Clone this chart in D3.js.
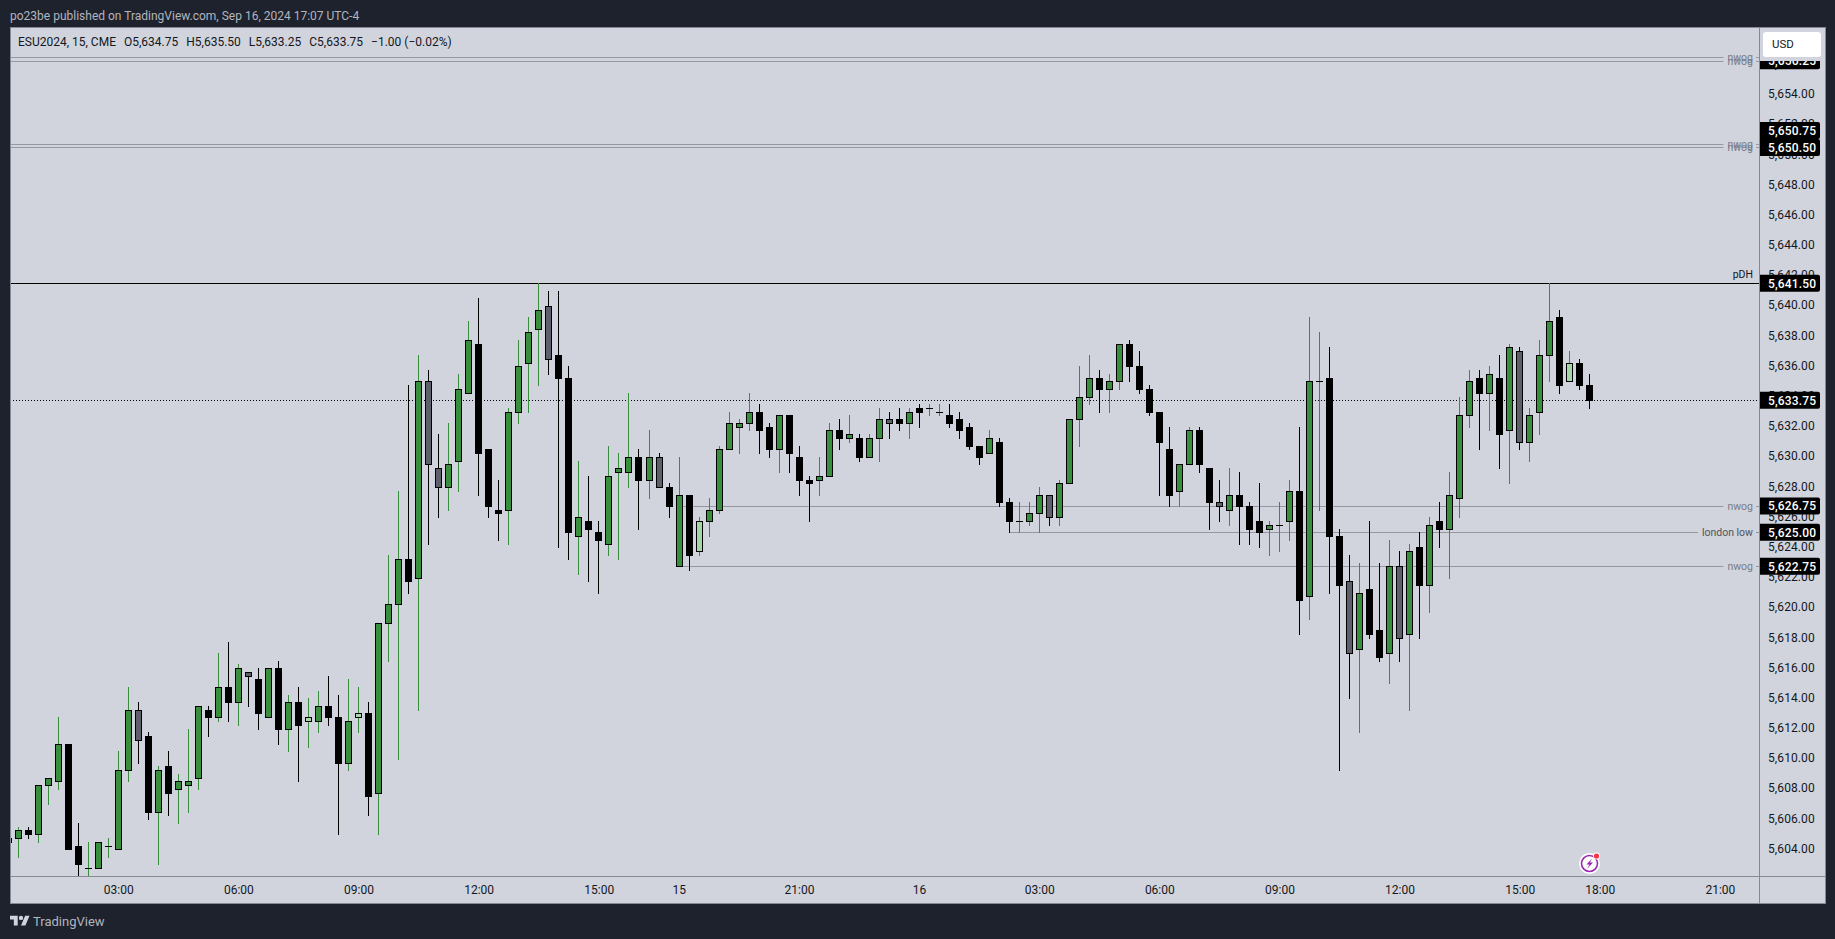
<!DOCTYPE html>
<html>
<head>
<meta charset="utf-8">
<script src="https://cdnjs.cloudflare.com/ajax/libs/d3/7.8.5/d3.min.js"></script>
<style>
html,body{margin:0;padding:0;background:#1e222d;overflow:hidden}
svg{display:block}
text{font-family:Roboto,"Noto Sans",sans-serif}
</style>
</head>
<body>
<svg id="c" width="1835" height="939"></svg>
<script>
const opens=[5604.75,5604.75,5605.25,5605,5608.25,5608.5,5611,5604.25,5602.75,5602.75,5604.25,5604,5609.25,5613.25,5611.5,5606.5,5609.5,5608,5608.25,5608.75,5613.25,5612.75,5614.75,5613.75,5615.75,5615.25,5612.75,5616,5612,5613.75,5612.5,5612.5,5613.5,5612.75,5609.75,5612.75,5613,5607.75,5619,5620.25,5623.25,5622,5635,5629.25,5628,5629.75,5634.25,5637.5,5630.5,5626.5,5626.5,5633,5636.25,5638.5,5640,5636.75,5635.25,5624.75,5625.75,5625,5624.25,5629,5629,5630,5628.5,5630,5628,5622.75,5627.5,5623.75,5625.75,5626.5,5630.5,5632,5632.25,5633,5632,5630.5,5632.75,5630,5628.5,5628.5,5628.75,5631.75,5631.25,5631.25,5630,5631.25,5632.5,5632.5,5632.25,5633.25,5633.25,5633,5632.75,5632.5,5632,5630.75,5630.25,5631,5627,5625.75,5625.75,5626.25,5627.5,5626,5628.25,5632.5,5634,5635.25,5634.5,5635,5637.5,5636,5634.5,5633,5630.5,5627.75,5629.5,5631.75,5629.25,5627,5626.5,5627.5,5626.75,5625.75,5625.25,5625.5,5625.75,5627.75,5620.75,5635,5635.25,5624.75,5621.75,5617.25,5621.25,5618.5,5617,5622.75,5618.25,5624,5621.5,5625.75,5625.25,5627.25,5632.75,5635.25,5634.25,5635.25,5631.75,5637,5631,5633,5636.75,5639.25,5635,5636.25,5634.75];
const highs=[5604.75,5605.5,5605.5,5608.25,5608.75,5612.75,5611,5605.75,5604.5,5604.5,5604.75,5610.5,5614.75,5613.75,5611.75,5609.5,5610.5,5609,5612,5613.5,5613.5,5617,5617.75,5616.25,5615.75,5616,5616,5616.5,5614.25,5614.75,5614,5614.5,5615.5,5614.25,5615.25,5614.75,5613.75,5619,5623.5,5627.75,5634.75,5636.75,5635.75,5631.5,5632.25,5635.5,5639,5640.5,5630.5,5628.5,5633.25,5637.75,5639.25,5641.5,5641,5641,5636,5629.75,5628.75,5625.75,5630.75,5630.25,5634.25,5630.5,5631.75,5630.25,5628.25,5630,5627.5,5626,5627.25,5630.75,5633,5632.5,5634.25,5633.5,5632.25,5632.75,5632.75,5630.75,5628.75,5630,5632.25,5632.5,5632.75,5631.5,5631.5,5633.25,5633,5633.25,5633.25,5633.5,5633.5,5633.5,5633.5,5633,5632.25,5630.75,5631.75,5631.25,5627.25,5627,5627,5628,5627.5,5628.5,5632.5,5636,5636.75,5635.75,5635.5,5637.5,5637.75,5637,5634.75,5633,5632,5629.5,5632,5632,5629.25,5628.5,5629.25,5629,5627,5628.25,5625.75,5627,5628.5,5632,5639.25,5638.25,5637.25,5625.25,5623.5,5623,5625.75,5623,5624.5,5623.75,5624.25,5625,5626,5627,5629,5634,5635.75,5635.75,5636,5636.75,5637.5,5637.25,5633.25,5637.75,5641.5,5639.75,5637,5636.5,5635.5];
const lows=[5604.5,5603.5,5604.75,5604.5,5607,5608,5604,5602,5602,5602.75,5603.5,5604,5608.5,5609.75,5606,5603,5606.25,5605.75,5606.5,5608,5611.5,5612.5,5612.5,5612.25,5613.5,5612,5612.75,5611,5610.5,5608.5,5610.75,5611.75,5612.25,5605,5609.25,5611.75,5606.25,5605,5616.5,5610,5621,5613.25,5624.25,5626,5626.5,5627.75,5634.25,5627.5,5626,5624.5,5624.25,5632.25,5633,5634.75,5635.5,5624,5623.25,5622.25,5621.75,5621,5623.5,5623.25,5628,5625.25,5627.25,5628,5626,5622.75,5622.5,5623.5,5624.75,5626.25,5630.5,5630.25,5631.75,5630.25,5630,5629,5629,5627.5,5625.75,5627.5,5628.75,5630.5,5631,5629.75,5630,5629.75,5631.25,5631.75,5631.25,5632,5632.75,5632.75,5632,5631.25,5630.5,5629.5,5630.25,5626.75,5625,5625,5625.5,5625,5625.5,5625.5,5628.25,5630.75,5633.5,5633,5633,5634.5,5635,5634.25,5632.75,5627.5,5626.75,5626.75,5629.5,5629,5625.25,5625.75,5625.5,5624.25,5624.25,5624,5623.5,5623.75,5624.5,5618.25,5619.25,5626.5,5621,5609.25,5614,5611.75,5618,5616.5,5615,5616.5,5613.25,5618,5619.75,5624,5622,5626,5632,5630.5,5631.75,5629.25,5628.25,5630.5,5629.75,5631.5,5635,5634.25,5635,5634.5,5633.25];
const closes=[5604.5,5605.25,5605,5608.25,5608.75,5611,5604,5603,5602.75,5604.5,5604.25,5609.25,5613.25,5611.25,5606.5,5609.25,5607.75,5608.5,5608.5,5613.5,5612.75,5614.75,5613.75,5616,5615.5,5613,5616,5612,5613.75,5612.25,5612.75,5613.5,5612.75,5609.75,5612.5,5613,5607.5,5619,5620.25,5623.25,5621.75,5635,5629.5,5628,5629.5,5634.5,5637.75,5630.25,5626.75,5626.25,5633,5636,5638.25,5639.75,5636.5,5635.25,5625,5626,5625.25,5624.5,5628.75,5629.25,5630,5628.5,5630,5628,5626.75,5627.5,5623.5,5625.75,5626.5,5630.5,5632.25,5632.25,5633,5631.75,5630.5,5632.75,5630.25,5628.5,5628.25,5628.75,5631.75,5631.25,5631.5,5630,5631.25,5632.5,5632.25,5632.25,5633,5633,5633.25,5633,5632.25,5631.75,5630.75,5630,5631.25,5627,5625.75,5625.75,5626.25,5627.5,5626,5628.25,5632.5,5634,5635.25,5634.5,5635,5637.5,5636,5634.5,5633,5631,5627.5,5629.5,5631.75,5629.5,5627,5626.75,5627.5,5626.75,5625.25,5625,5625.5,5625.5,5627.75,5620.5,5635,5635,5624.75,5621.5,5617,5621,5618.25,5616.75,5622.75,5618,5623.75,5621.5,5625.5,5625.25,5627.5,5632.75,5635,5634.25,5635.5,5631.5,5637.25,5631,5632.75,5636.75,5639,5634.75,5636.25,5634.75,5633.75];
const greyBars=[13,24,42,43,54,65,88,104,121,134,139,151];
const lightBars=[30,35,69,156];
const priceTicks=[5604,5606,5608,5610,5612,5614,5616,5618,5620,5622,5624,5626,5628,5630,5632,5634,5636,5638,5640,5642,5644,5646,5648,5650,5652,5654,5656];
const timeTickBars=[11,23,35,47,59,67,79,91,103,115,127,139,151,159,171];
const timeTickLabels=["03:00","06:00","09:00","12:00","15:00","15","21:00","16","03:00","06:00","09:00","12:00","15:00","18:00","21:00"];
const rayPrices=[5656.5,5656.25,5650.75,5650.5,5626.75,5625,5622.75];
const rayStartBars=[0,0,0,0,67,100,67];
const rayLabels=["nwog","nwog","nwog","nwog","nwog","london low","nwog"];
const pdhPrice=5641.5, lastPrice=5633.75;
const scaleLabels=[5656.25,5650.75,5650.5,5641.5,5633.75,5626.75,5625,5622.75];
const headerText="po23be published on TradingView.com, Sep 16, 2024 17:07 UTC-4";
const legendParts=["ESU2024, 15, CME","O5,634.75","H5,635.50","L5,633.25","C5,633.75","−1.00 (−0.02%)"];

const W=1835,H=939;
const plot={l:10,r:1759,t:27,b:876,outerR:1825,outerB:903};
const GREEN="#388e3c",GREY="#5d606b",LIGHT="#a5d6a7",BG="#d1d4dc",LINE="#9598a1",DARK="#1e222d",INK="#131722";
const svg=d3.select("#c");
const x=d3.scaleLinear().domain([0,158]).range([8.365,1589.945]);
const px=i=>Math.floor(x(i));
const y=d3.scaleLinear().domain([5622.75,5641.5]).range([566.3,283.3]);
const py=p=>Math.round(y(p));

svg.append("rect").attr("width",W).attr("height",H).attr("fill",DARK);
svg.append("rect").attr("x",plot.l+.5).attr("y",plot.t+.5).attr("width",plot.outerR-plot.l).attr("height",plot.outerB-plot.t)
  .attr("fill",BG).attr("stroke","#868993");
svg.append("defs").append("clipPath").attr("id","pc").append("rect")
  .attr("x",plot.l+1).attr("y",plot.t+1).attr("width",plot.r-plot.l-1).attr("height",plot.b-plot.t-1);

// separators
svg.append("line").attr("x1",plot.r+.5).attr("x2",plot.r+.5).attr("y1",plot.t).attr("y2",plot.outerB).attr("stroke","#868993");
svg.append("line").attr("x1",plot.l).attr("x2",plot.outerR).attr("y1",plot.b+.5).attr("y2",plot.b+.5).attr("stroke","#868993");

// price axis
const axR=svg.append("g").attr("transform",`translate(${plot.r+9},-1.3)`)
  .call(d3.axisRight(y).tickValues(priceTicks).tickFormat(d3.format(",.2f")).tickSize(0).tickPadding(0));
axR.select(".domain").remove();
axR.selectAll("text").attr("font-size",12).attr("fill",INK).attr("dy","0.36em").attr("letter-spacing","0.1px");

// time axis
const axB=svg.append("g").attr("transform",`translate(-0.2,${plot.b})`)
  .call(d3.axisBottom(x).tickValues(timeTickBars).tickFormat(d=>timeTickLabels[timeTickBars.indexOf(d)]).tickSize(0).tickPadding(0));
axB.select(".domain").remove();
axB.selectAll("text").attr("font-size",12).attr("fill",INK).attr("dy","17.5px").attr("y",0);

const g=svg.append("g").attr("clip-path","url(#pc)");

// rays
const rays=rayPrices.map((p,i)=>({p,start:rayStartBars[i],label:rayLabels[i]}));
g.selectAll(".ray").data(rays).join("line").attr("class","ray")
  .attr("x1",d=>d.start===0?plot.l:px(d.start)).attr("x2",plot.r)
  .attr("y1",d=>py(d.p)+.5).attr("y2",d=>py(d.p)+.5).attr("stroke",LINE).attr("stroke-width",1);
// horizontal reference lines
g.append("line").attr("x1",plot.l).attr("x2",plot.r).attr("y1",py(lastPrice)+.5).attr("y2",py(lastPrice)+.5)
  .attr("stroke","#000").attr("stroke-dasharray","1 2");
g.append("line").attr("x1",plot.l).attr("x2",plot.r).attr("y1",py(pdhPrice)+.5).attr("y2",py(pdhPrice)+.5)
  .attr("stroke","#000");

// candles
const bars=opens.map((o,i)=>({i,o,h:highs[i],l:lows[i],c:closes[i],
  kind:greyBars.includes(i)?"grey":lightBars.includes(i)?"light":closes[i]>=o?"up":"down"}));
const fillOf={up:GREEN,down:"#000",grey:GREY,light:LIGHT};
const wickOf={up:GREEN,down:"#000",grey:"#000",light:GREEN};
g.selectAll(".wick").data(bars).join("rect").attr("class","wick")
  .attr("x",d=>px(d.i)).attr("width",1)
  .attr("y",d=>py(d.h)).attr("height",d=>py(d.l)-py(d.h)+1).attr("fill",d=>wickOf[d.kind]);
g.selectAll(".body").data(bars).join("rect").attr("class","body")
  .attr("x",d=>px(d.i)-3).attr("width",7)
  .attr("y",d=>py(Math.max(d.o,d.c)))
  .attr("height",d=>py(Math.min(d.o,d.c))-py(Math.max(d.o,d.c))+1).attr("fill","#000");
g.selectAll(".fill").data(bars.filter(d=>d.o!==d.c&&d.kind!=="down")).join("rect").attr("class","fill")
  .attr("x",d=>px(d.i)-2).attr("width",5)
  .attr("y",d=>py(Math.max(d.o,d.c))+1)
  .attr("height",d=>Math.max(0,py(Math.min(d.o,d.c))-py(Math.max(d.o,d.c))-1)).attr("fill",d=>fillOf[d.kind]);

// ray labels with background knock-out
const rl=svg.append("g");
rays.forEach(d=>{
  const t=rl.append("text").attr("x",1753).attr("y",py(d.p)+.5).attr("dy","0.32em").attr("text-anchor","end")
    .attr("font-size",10.5).attr("fill",d.label==="london low"?"#50535e":"#787b86").text(d.label);
  const w=t.node().getComputedTextLength();
  rl.insert("rect","text").attr("x",1753-w-4).attr("y",py(d.p)).attr("width",w+7).attr("height",1).attr("fill",BG);
});
svg.append("text").attr("x",1753).attr("y",py(pdhPrice)-5).attr("text-anchor","end").attr("font-size",10.5).attr("fill",INK).text("pDH");

// scale labels, pushed apart when they would overlap
const boxH=17;
const slab=scaleLabels.slice().sort((a,b)=>a-b).map(p=>({p,cy:y(p)}));
for(let i=1;i<slab.length;i++){ if(slab[i-1].cy-slab[i].cy<boxH) slab[i].cy=slab[i-1].cy-boxH; }
const sg=svg.append("g").selectAll("g").data(slab).join("g").attr("transform",d=>`translate(${plot.r+1},${d.cy})`);
sg.append("path").attr("d",`M0,${-boxH/2}H58a2,2 0 0 1 2,2V${boxH/2-2}a2,2 0 0 1 -2,2H0Z`).attr("fill","#000");
sg.append("text").attr("x",8).attr("dy","0.36em").attr("font-size",12).attr("font-weight",500).attr("letter-spacing","0.15px").attr("fill","#fff")
  .text(d=>d3.format(",.2f")(d.p));

// currency box with its clear margin
svg.append("rect").attr("x",plot.r+1).attr("y",plot.t+1).attr("width",plot.outerR-plot.r-1).attr("height",33).attr("fill",BG);
svg.append("rect").attr("x",1763).attr("y",32).attr("width",58).attr("height",25).attr("rx",3).attr("fill","#fff");
svg.append("text").attr("x",1772).attr("y",48).attr("font-size",11.5).attr("fill",INK).text("USD");

// header and legend
svg.append("text").attr("x",10).attr("y",19.5).attr("font-size",12).attr("fill","#b2b5be").text(headerText);
let lx=18;
legendParts.forEach(s=>{
  const t=svg.append("text").attr("x",lx).attr("y",46).attr("font-size",12).attr("fill",INK).text(s);
  lx+=t.node().getComputedTextLength()+8;
});

// bolt icon
const ic=svg.append("g").attr("transform","translate(1589.5,863.5)");
ic.append("circle").attr("r",10.5).attr("fill","#fff");
ic.append("circle").attr("r",8).attr("fill","none").attr("stroke","#9c27b0").attr("stroke-width",1.6);
ic.append("path").attr("d","M2.5,-5 L-3,1 L0,1 L-2.5,5.5 L3.5,-1 L0.5,-1 Z").attr("fill","#9c27b0");
ic.append("circle").attr("cx",7).attr("cy",-7.5).attr("r",3.4).attr("fill","#fff");
ic.append("circle").attr("cx",7).attr("cy",-7.5).attr("r",2.6).attr("fill","#f23645");

// footer brand
const lo=svg.append("g").attr("transform","translate(10,913.5) scale(0.55)").attr("fill","#d1d4dc");
lo.append("path").attr("d","M14 22H7V11H0V4h14v18zM28 22h-8l7.5-18h8L28 22z");
lo.append("circle").attr("cx",20).attr("cy",8).attr("r",4);
svg.append("text").attr("x",33).attr("y",926).attr("font-size",13).attr("fill","#b2b5be").text("TradingView");
</script>
</body>
</html>
